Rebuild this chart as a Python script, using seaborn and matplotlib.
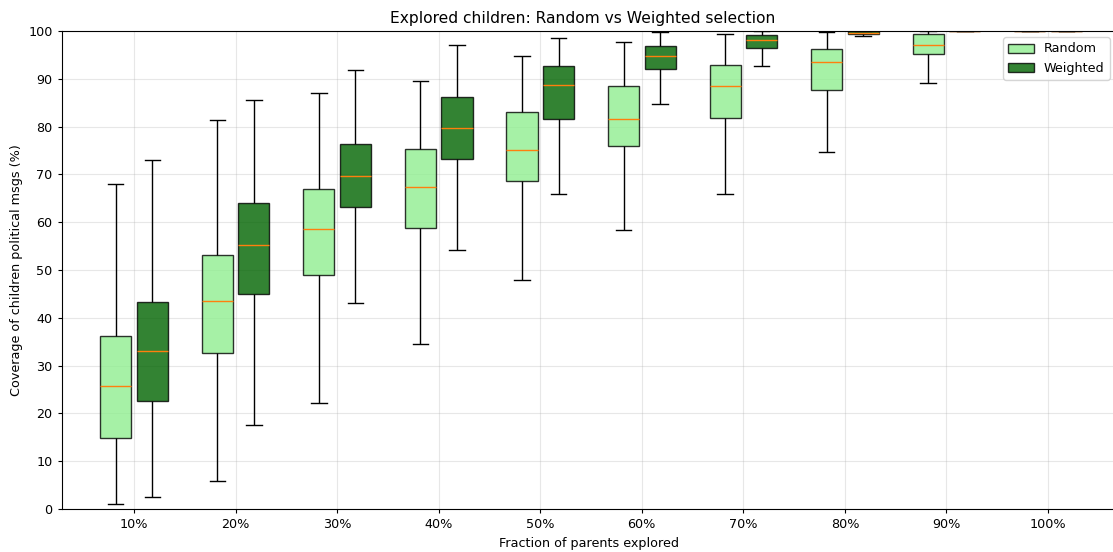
import pandas as pd
import matplotlib
matplotlib.use("Agg")
import matplotlib.pyplot as plt
from matplotlib.patches import Patch
import seaborn as sns

# Fractions of parents explored
fractions = ["10%", "20%", "30%", "40%", "50%", "60%", "70%", "80%", "90%", "100%"]

# Box stats: whisker low, Q1, median, Q3, whisker high
random_lo = [1.1, 5.9, 22.2, 34.5, 47.9, 58.4, 65.8, 74.6, 89.2, 100]
random_q1 = [14.9, 32.6, 49.0, 58.7, 68.6, 75.9, 81.8, 87.7, 95.2, 100]
random_med = [25.7, 43.5, 58.6, 67.4, 75.2, 81.6, 88.5, 93.6, 97.1, 100]
random_q3 = [36.1, 53.1, 66.9, 75.3, 83.1, 88.4, 92.8, 96.3, 99.3, 100]
random_hi = [68.0, 81.4, 87.0, 89.5, 94.7, 97.6, 99.4, 99.8, 100, 100]

weighted_lo = [2.5, 17.6, 43.2, 54.1, 65.8, 84.8, 92.6, 98.9, 99.9, 100]
weighted_q1 = [22.6, 45.0, 63.2, 73.2, 81.6, 92.0, 96.4, 99.4, 100, 100]
weighted_med = [33.0, 55.2, 69.7, 79.7, 88.8, 94.8, 98.1, 99.6, 100, 100]
weighted_q3 = [43.3, 64.0, 76.4, 86.2, 92.6, 96.8, 99.1, 100, 100, 100]
weighted_hi = [73.0, 85.6, 91.8, 97.1, 98.6, 99.7, 99.9, 100, 100, 100]

# Five points per group give exactly these quartiles; whiskers go to min/max
rows = []
for i, frac in enumerate(fractions):
    for v in [random_lo[i], random_q1[i], random_med[i], random_q3[i], random_hi[i]]:
        rows.append({"fraction": frac, "method": "Random", "coverage": v})
    for v in [weighted_lo[i], weighted_q1[i], weighted_med[i], weighted_q3[i], weighted_hi[i]]:
        rows.append({"fraction": frac, "method": "Weighted", "coverage": v})
df = pd.DataFrame(rows)

colors = {"Random": "lightgreen", "Weighted": "darkgreen"}

fig = plt.figure(figsize=(11.13, 5.52), dpi=100)
ax = fig.add_axes([62 / 1113, 43 / 552, 1054 / 1113, 478 / 552])

sns.boxplot(
    data=df, x="fraction", y="coverage", hue="method",
    order=fractions, hue_order=["Random", "Weighted"],
    palette=colors, saturation=1, width=0.72, gap=0.15,
    whis=(0, 100), showfliers=False, linewidth=1, linecolor="black",
    boxprops=dict(alpha=0.8),
    medianprops=dict(color="#ff7f0e", linewidth=1),
    whiskerprops=dict(color="black", linewidth=1),
    capprops=dict(color="black", linewidth=1),
    legend=False, ax=ax,
)

ax.set_xlim(-0.709, 9.669)
ax.set_ylim(0, 100)
ax.set_yticks(range(0, 101, 10))
ax.grid(True, alpha=0.3)
ax.set_axisbelow(True)
ax.spines["right"].set_visible(False)
ax.tick_params(labelsize=9.2, length=3.2)

ax.set_title("Explored children: Random vs Weighted selection", fontsize=11.2, x=0.4938)
ax.set_xlabel("Fraction of parents explored", fontsize=9.2)
ax.set_ylabel("Coverage of children political msgs (%)", fontsize=9.2)

handles = [
    Patch(facecolor="lightgreen", edgecolor="black", alpha=0.8, label="Random"),
    Patch(facecolor="darkgreen", edgecolor="black", alpha=0.8, label="Weighted"),
]
ax.legend(handles=handles, loc="upper right", fontsize=9.2)

fig.savefig("out.png", dpi=100)
